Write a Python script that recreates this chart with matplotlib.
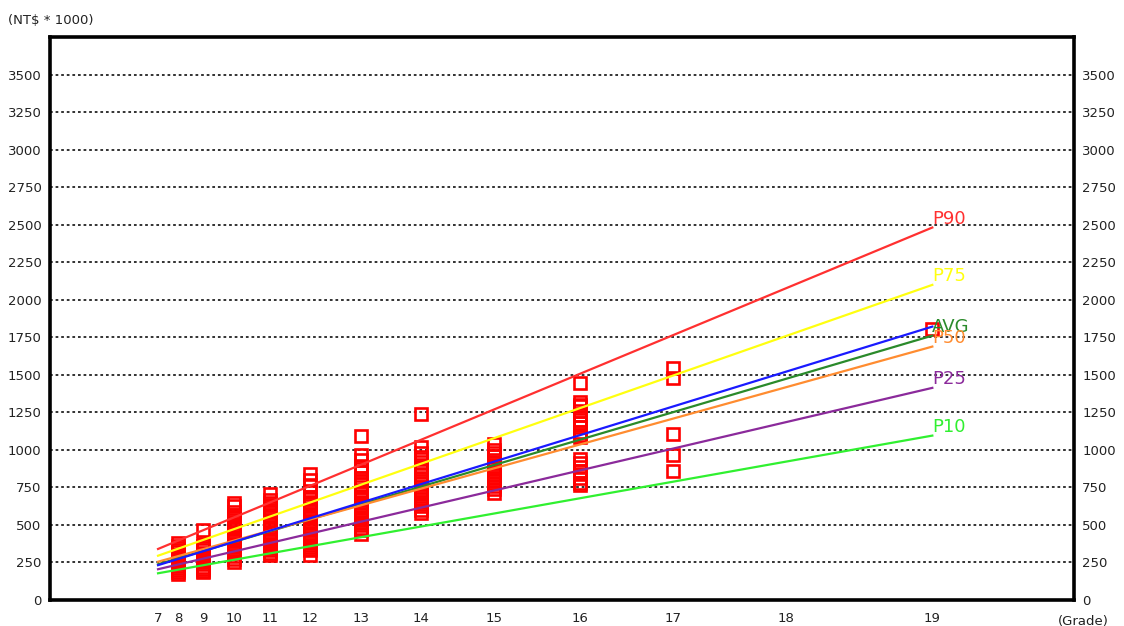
import numpy as np
import matplotlib
matplotlib.use("Agg")
import matplotlib.pyplot as plt

# ---- data ----
grades = [7, 8, 9, 10, 11, 12, 13, 14, 15, 16, 17, 18, 19]
grade_labels = [str(g) for g in grades]
y_ticks = list(range(0, 3501, 250))

# percentile lines: value at grade 7 and grade 19
line_names = ["P90", "P75", "AVG", "P50", "P25", "P10", ""]
line_start = [340, 295, 238, 255, 205, 178, 232]
line_end = [2481, 2099, 1761, 1688, 1413, 1095, 1821]
line_colors = ["#ff3030", "#ffff10", "#2a8a2a", "#ff8c30", "#8b2a9b", "#30f030", "#1a1aff"]

# individual salaries (NT$ * 1000) by grade
pts = {
    8: [380, 362, 348, 331, 318, 300, 287, 270, 256, 240, 226, 211, 198, 184, 172],
    9: [463, 376, 360, 346, 330, 315, 298, 284, 268, 252, 238, 222, 207, 195, 186],
    10: [643, 623, 583, 566, 550, 533, 517, 500, 486, 470, 452, 438, 421, 405, 390,
         374, 358, 341, 325, 310, 294, 276, 253],
    11: [709, 663, 648, 632, 615, 600, 584, 568, 552, 535, 520, 505, 488, 472, 456,
         440, 424, 408, 392, 376, 360, 345, 330, 316, 303],
    12: [836, 796, 763, 729, 689, 672, 655, 640, 624, 608, 592, 576, 560, 544, 528,
         512, 496, 480, 464, 448, 432, 416, 400, 384, 368, 352, 343, 330, 303],
    13: [1092, 969, 935, 895, 875, 855, 815, 795, 775, 750, 729, 710, 689, 670, 652,
         635, 618, 600, 583, 566, 549, 532, 515, 498, 480, 463, 440],
    14: [1239, 1019, 982, 950, 916, 885, 856, 835, 815, 795, 775, 755, 735, 715, 695,
         675, 655, 640, 623, 600, 579],
    15: [1042, 1002, 980, 956, 935, 915, 895, 875, 855, 835, 815, 798, 782, 760, 738, 716],
    16: [1448, 1322, 1300, 1289, 1260, 1229, 1200, 1176, 1150, 1122, 1100, 1089,
         939, 915, 889, 860, 836, 810, 776, 763],
    17: [1548, 1482, 1109, 969, 859],
    19: [1808],
}

# ---- warped grade axis (layout) ----
tick_px = [108, 128, 153, 184, 220, 260, 311, 371, 444, 530, 623, 736, 882]
gx = np.array([1.6] + grades + [20.0], dtype=float)
px = np.array([0] + tick_px + [1028], dtype=float)


def fwd(x):
    return np.interp(x, gx, px)


def inv(y):
    return np.interp(y, px, gx)


plt.rcParams['font.family'] = ['DejaVu Sans']

fig = plt.figure(figsize=(11.24, 6.26), dpi=100)
ax = fig.add_axes([50 / 1124, 26 / 626, 1024 / 1124, 563 / 626])
ax.set_xscale('function', functions=(fwd, inv))
ax.set_xlim(1.6, 19.97)
ax.set_ylim(0, 3750)

# grid
for v in y_ticks[1:]:
    ax.axhline(v, color='#222222', linestyle=(0, (1.5, 1.6)), linewidth=1.3, zorder=1)

# points
for g, vals in pts.items():
    ax.plot([g] * len(vals), vals, linestyle='none', marker='s', markersize=8.3,
            markerfacecolor='none', markeredgecolor='#ff0000', markeredgewidth=1.9, zorder=2)

# lines
for name, s, e, c in zip(line_names, line_start, line_end, line_colors):
    ax.plot([grades[0], grades[-1]], [s, e], color=c, linewidth=1.6, zorder=3)
    if name:
        ax.text(grades[-1], e, name, color=c, ha='left', va='bottom', fontsize=13,
                zorder=4)

for sp in ax.spines.values():
    sp.set_linewidth(2.6)
    sp.set_color('black')

ax.set_xticks(grades, grade_labels)
ax.set_yticks(y_ticks, [str(v) for v in y_ticks])
ax.tick_params(axis='x', length=0, pad=9, labelsize=9.5, colors='#222222')
ax.tick_params(axis='y', length=0, pad=6, labelsize=9.5, colors='#222222',
               labelleft=True, labelright=True)

fig.text(8 / 1124, 1 - 20 / 626, "(NT$ * 1000)", ha='left', va='center',
         fontsize=9.5, color='#222222')
fig.text(1058 / 1124, 1 - 621 / 626, "(Grade)", ha='left', va='center',
         fontsize=9.5, color='#222222')

fig.savefig("out.png", dpi=100)
